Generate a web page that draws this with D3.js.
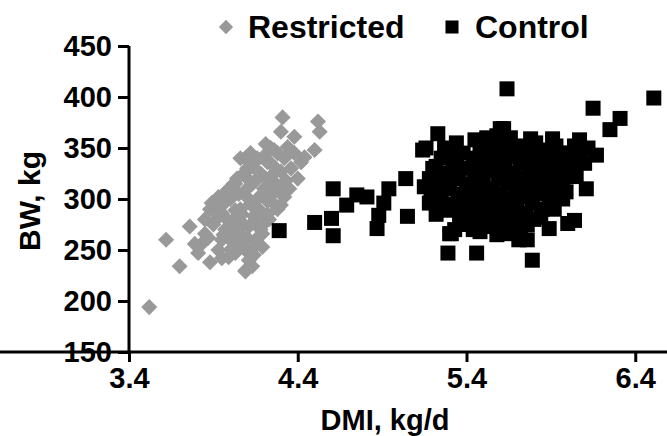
<!DOCTYPE html>
<html><head><meta charset="utf-8">
<script src="https://cdn.jsdelivr.net/npm/d3@7"></script>
<style>body{margin:0;background:#fff}svg{display:block}text{font-family:"Liberation Sans",Arial,sans-serif;font-weight:bold}</style>
</head><body><svg id="c" width="667" height="436"></svg>
<script>
const seriesNames = ["Restricted", "Control"];
const xTicks = [3.4, 4.4, 5.4, 6.4];
const yTicks = [150, 200, 250, 300, 350, 400, 450];
const restrictedDMI = [3.52,3.62,3.70,3.76,4.09,4.31,4.52,4.53,4.30,4.38,4.21,4.26,4.34,4.50,4.42,4.44,4.12,4.09,4.22,4.13,4.30,4.09,4.03,4.26,3.99,3.93,3.89,4.32,4.30,
  4.30,3.95,4.03,4.19,3.85,3.83,3.81,3.88,3.99,3.95,4.07,4.03,4.11,4.09,4.13,4.19,4.19,4.20,3.91,4.11,4.01,3.93,3.79,
  3.92,3.96,4.00,4.02,4.05,4.06,4.08,4.10,4.12,4.14,4.15,4.16,4.18,4.20,4.22,4.24,4.25,4.27,4.28,4.18,4.10,4.05,3.97,3.90,3.87,4.02,4.08,4.14,4.20,4.23,4.15,4.00,3.95,4.12,
  3.85,3.88,3.93,3.98,4.04,4.07,4.11,4.13,4.17,4.19,4.21,4.24,4.28,4.32,4.36,4.40,4.35,4.33,4.26,4.22,4.16,4.06,4.00,3.96,4.09,4.14,3.98,4.04,4.10,4.16,4.06,4.24,4.38,4.27];
const restrictedBW = [194,260,234,273,230,380,376,366,366,361,354,348,351,348,336,341,345,340,336,332,327,322,315,315,309,302,296,302,310,
  294,286,289,286,266,256,247,238,243,260,260,247,240,229,234,266,253,276,279,273,270,250,256,
  290,295,300,280,305,290,275,310,295,283,318,300,325,310,298,322,305,330,290,270,262,255,270,275,262,315,325,335,342,280,260,250,242,250,
  280,290,285,280,270,285,300,315,290,305,320,335,345,340,330,320,310,318,295,285,275,265,260,265,250,245,308,320,330,340,340,350,345,315];
const controlDMI = [4.29,4.61,4.75,4.81,4.69,4.60,4.50,4.61,4.94,4.91,4.88,4.87,5.04,5.05,
  5.23,5.14,5.19,5.31,5.29,5.46,5.33,5.22,5.60,5.64,5.16,5.33,5.62,5.78,5.91,
  6.51,6.15,6.31,6.25,6.07,6.17,6.11,6.04,5.79,5.89,5.76,5.99,5.98,5.30,6.00,5.28,5.38,5.52,5.63,5.71,
  5.20,5.22,5.25,5.25,5.28,5.30,5.30,5.32,5.35,5.35,5.36,5.38,5.40,5.40,5.42,5.42,5.44,5.45,5.46,5.47,5.48,5.50,5.50,5.50,5.52,5.53,5.54,5.55,5.55,5.56,5.57,5.58,5.59,5.60,5.60,5.61,5.62,5.63,5.64,5.65,5.65,5.66,5.67,5.68,5.69,5.70,5.70,5.72,5.72,5.73,5.74,5.75,5.76,5.77,5.78,5.79,5.80,5.81,5.82,5.83,5.84,5.85,5.86,5.87,5.88,5.89,5.90,5.91,5.92,5.93,5.95,5.96,5.98,6.00,6.02,6.04,6.05,6.08,6.10,
  5.27,5.34,5.45,5.52,5.58,5.15,5.18,5.22,5.33,5.48,5.58,5.68,5.76,5.84,5.92,5.97,5.38,5.43,5.53,5.62,5.71,5.79,5.63,5.47,5.57,5.67,5.74,
  5.18,5.21,5.24,5.27,5.31,5.34,5.37,5.41,5.44,5.46,5.49,5.51,5.54,5.56,5.59,5.61,5.64,5.66,5.69,5.71,5.73,5.76,5.78,5.81,5.83,5.86,5.88,5.91,5.93,5.95,5.97,6.00,6.03,6.06,6.12,5.66,5.72,5.50,5.44,5.36];
const controlBW = [269,310,304,302,294,281,277,264,310,296,284,271,320,283,
  364,348,306,266,247,247,341,332,369,408,350,342,369,359,359,
  399,389,379,368,358,343,310,279,240,271,260,307,328,266,276,289,276,273,266,260,
  330,318,340,300,325,310,295,335,320,300,285,345,330,312,298,280,340,322,305,290,350,335,318,300,285,345,328,310,295,278,355,338,320,305,290,272,348,332,315,300,284,360,342,325,308,292,278,352,335,318,302,286,345,328,312,296,280,355,338,320,305,290,348,330,315,298,340,325,308,352,335,318,345,330,340,352,322,345,335,
  350,355,358,360,362,312,296,285,270,268,265,268,275,282,290,300,290,315,305,295,315,345,352,330,330,318,336,
  320,305,292,312,325,340,305,288,300,315,342,295,275,350,285,340,325,295,350,305,285,320,305,330,345,310,325,300,320,345,312,322,332,340,350,270,268,280,270,275];

const svg = d3.select("#c");
const x = d3.scaleLinear().domain([3.4, 6.6]).range([129, 669]);
const y = d3.scaleLinear().domain([150, 450]).range([352, 46]);

const gx = svg.append("g").attr("transform", "translate(0,352)")
  .call(d3.axisBottom(x).tickValues(xTicks).tickFormat(d3.format(".1f")).tickSize(10).tickPadding(5));
const gy = svg.append("g").attr("transform", "translate(129,0)")
  .call(d3.axisLeft(y).tickValues(yTicks).tickSize(11).tickPadding(6));
[gx, gy].forEach(g => {
  g.select(".domain").attr("stroke", "#000").attr("stroke-width", 3);
  g.selectAll(".tick line").attr("stroke", "#000").attr("stroke-width", 3);
  g.selectAll(".tick text").attr("fill", "#000").style("font-size", "29px").style("font-family", "'Liberation Sans',Arial,sans-serif").style("font-weight", "bold");
});
gy.select(".domain").attr("d", "M0,352V46");
gx.select(".domain").attr("d", "M0,0H669");

const diamond = d3.symbol().type(d3.symbolDiamond2).size(165);
const square = d3.symbol().type(d3.symbolSquare).size(225);

svg.append("g").selectAll("path").data(restrictedDMI.map((d, i) => [d, restrictedBW[i]]))
  .join("path").attr("d", diamond).attr("fill", "#999999")
  .attr("transform", d => `translate(${x(d[0])},${y(d[1])})`);
svg.append("g").selectAll("path").data(controlDMI.map((d, i) => [d, controlBW[i]]))
  .join("path").attr("d", square).attr("fill", "#000")
  .attr("transform", d => `translate(${x(d[0])},${y(d[1])})`);

// legend
const lg = svg.append("g");
lg.append("path").attr("d", d3.symbol().type(d3.symbolDiamond2).size(130)).attr("fill", "#999999").attr("transform", "translate(226,27)");
lg.append("text").attr("x", 248).attr("y", 38).style("font-size", "32px").text(seriesNames[0]);
lg.append("path").attr("d", d3.symbol().type(d3.symbolSquare).size(170)).attr("fill", "#000").attr("transform", "translate(452,27)");
lg.append("text").attr("x", 475).attr("y", 38).style("font-size", "32px").text(seriesNames[1]);

svg.append("text").attr("x", 385).attr("y", 430).attr("text-anchor", "middle").style("font-size", "29px").text("DMI, kg/d");
svg.append("text").attr("transform", "translate(40,201) rotate(-90)").attr("text-anchor", "middle").style("font-size", "30px").text("BW, kg");
</script></body></html>
